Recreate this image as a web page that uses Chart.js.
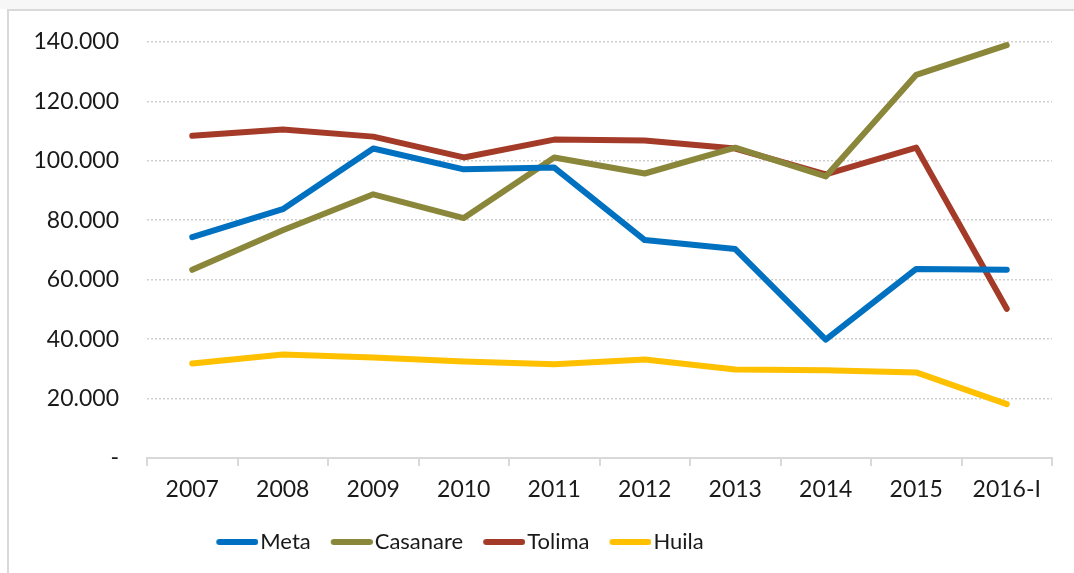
<!DOCTYPE html>
<html>
<head>
<meta charset="utf-8">
<script src="https://cdn.jsdelivr.net/npm/chart.js@4/dist/chart.umd.min.js"></script>
<style>
  html, body { margin: 0; padding: 0; background: #fff; overflow: hidden; }
  #wrap { position: relative; width: 1074px; height: 573px; }
  #frame { position: absolute; left: 7px; top: 9px; width: 1100px; height: 600px; border: 2px solid #d9d9d9; box-sizing: border-box; }
  #topstrip { position: absolute; left: 0; top: 0; width: 1074px; height: 9px; background: #f7f7f7; }
  canvas { position: absolute; left: 0; top: 0; }
</style>
</head>
<body>
<div id="wrap">
  <div id="topstrip"></div>
  <div id="frame"></div>
  <canvas id="c" width="1074" height="573"></canvas>
</div>
<script>
const categories = ['2007', '2008', '2009', '2010', '2011', '2012', '2013', '2014', '2015', '2016-I'];
const meta     = [74300, 83700, 104100, 97100, 97700, 73300, 70300, 39800, 63600, 63300];
const casanare = [63300, 76600, 88700, 80700, 101100, 95700, 104400, 94700, 128900, 138900];
const tolima   = [108400, 110500, 108100, 101100, 107100, 106800, 104100, 95400, 104400, 50200];
const huila    = [31800, 34800, 33800, 32500, 31500, 33100, 29800, 29500, 28800, 18100];
const yTicks   = [0, 20000, 40000, 60000, 80000, 100000, 120000, 140000];

function fmt(v) {
  if (v === 0) return '-';
  return String(v).replace(/\B(?=(\d{3})+(?!\d))/g, '.');
}

const FONT = 'Lato, "Open Sans", sans-serif';

// layout targets (page pixels)
const TARGET = { top: 40, bottom: 458, legendY: 542, legendCenterX: 460 };
const tune = { extraX: 5, shift: 62 };

// legend swatch: a rounded line drawn in the right part of a small canvas
function swatch(color) {
  const cv = document.createElement('canvas');
  cv.width = 51; cv.height = 8;
  const g = cv.getContext('2d');
  g.strokeStyle = color; g.lineWidth = 6; g.lineCap = 'round';
  g.beginPath(); g.moveTo(12, 4); g.lineTo(48, 4); g.stroke();
  return cv;
}

function ds(label, data, color) {
  return {
    label, data,
    borderColor: color, backgroundColor: color,
    borderWidth: 6, borderCapStyle: 'round', borderJoinStyle: 'round',
    pointStyle: swatch(color),
    pointRadius: 0, pointHoverRadius: 0, tension: 0, fill: false
  };
}

// the source legend sits left of the page centre (the original chart is wider than the crop)
const legendShift = {
  id: 'legendShift',
  afterLayout(chart) {
    if (chart.legend) { chart.legend.left -= tune.shift; chart.legend.right -= tune.shift; }
  }
};

const chart = new Chart(document.getElementById('c'), {
  type: 'line',
  data: {
    labels: categories,
    datasets: [
      ds('Meta', meta, '#0070C0'),
      ds('Casanare', casanare, '#8A873B'),
      ds('Tolima', tolima, '#A33B28'),
      ds('Huila', huila, '#FFC000')
    ]
  },
  plugins: [legendShift],
  options: {
    responsive: false,
    animation: false,
    devicePixelRatio: 1,
    layout: { padding: { top: 26, right: 22, left: 0, bottom: 9 } },
    plugins: {
      tooltip: { enabled: false },
      legend: {
        position: 'bottom',
        labels: {
          usePointStyle: true,
          pointStyleWidth: 33,
          boxHeight: 8,
          padding: 20,
          color: '#1a1a1a',
          font: { family: FONT, size: 22 }
        }
      }
    },
    scales: {
      x: {
        offset: true,
        afterFit: (s) => { s.height += tune.extraX; },
        grid: { display: true, drawOnChartArea: false, drawTicks: true, tickLength: 8, color: '#d9d9d9', lineWidth: 2, offset: true },
        border: { display: true, color: '#d9d9d9', width: 2 },
        ticks: { color: '#1a1a1a', font: { family: FONT, size: 23 }, padding: 10, maxRotation: 0, autoSkip: false }
      },
      y: {
        min: 0, max: 140000,
        afterBuildTicks: (s) => { s.ticks = yTicks.map(v => ({ value: v })); },
        afterFit: (s) => { s.width = 147; },
        grid: {
          color: (c) => c.tick && c.tick.value === 0 ? 'rgba(0,0,0,0)' : '#cfcfcf',
          lineWidth: 1.5, drawTicks: false
        },
        border: { display: false, dash: [2, 2] },
        ticks: { color: '#1a1a1a', font: { family: FONT, size: 23 }, padding: 28, callback: (v) => fmt(v) }
      }
    }
  }
});

// one calibration pass so the plot area and legend land where the reference has them
(function calibrate() {
  const ca = chart.chartArea;
  const pad = chart.options.layout.padding;
  const hb = chart.legend.legendHitBoxes;
  const legY = hb[0].top + hb[0].height / 2;
  const dLeg = TARGET.legendY - legY;
  pad.top += TARGET.top - ca.top;
  pad.bottom -= dLeg;
  tune.extraX += dLeg - (TARGET.bottom - ca.bottom);
  const last = hb[hb.length - 1];
  const cx = (hb[0].left + last.left + last.width) / 2;
  tune.shift += cx - TARGET.legendCenterX;
  chart.update('none');
})();
</script>
</body>
</html>
